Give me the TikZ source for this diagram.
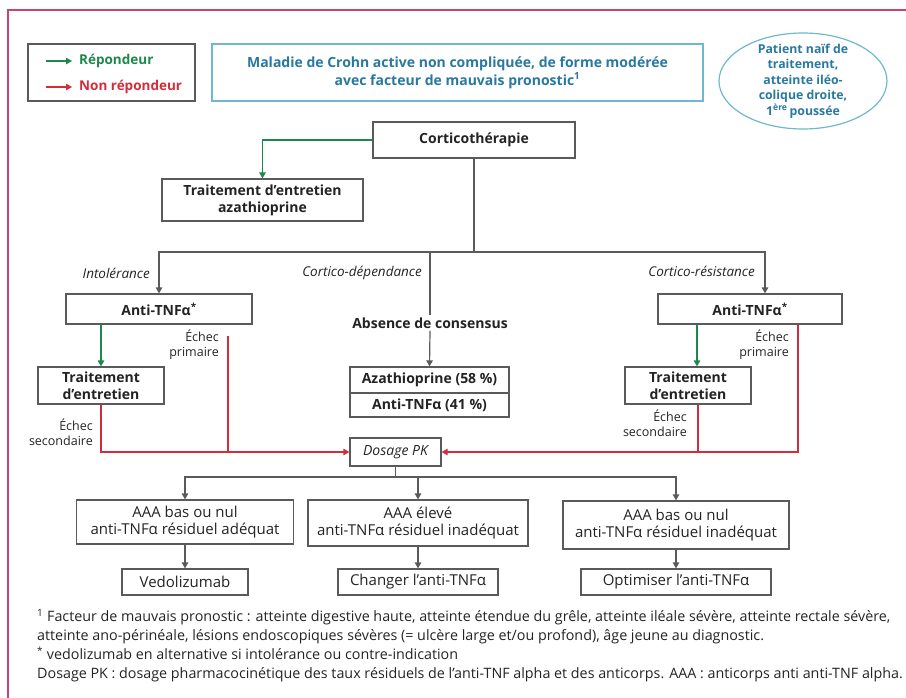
\documentclass[tikz,border=0pt]{standalone}
\usepackage{fontspec}
\setmainfont{Open Sans}
\usetikzlibrary{arrows.meta,shapes.geometric}

\definecolor{frameline}{RGB}{200,70,110}
\definecolor{respgreen}{RGB}{30,135,75}
\definecolor{nonred}{RGB}{210,45,60}
\definecolor{titleblue}{RGB}{40,120,160}
\definecolor{titleframe}{RGB}{110,185,205}
\definecolor{boxgray}{RGB}{90,90,90}
\definecolor{textgray}{RGB}{35,35,35}

\tikzset{
    frame line/.style={draw=frameline, line width=1.2},
    main node/.style={draw=boxgray, line width=1.2, inner sep=2, align=center, text=textgray,
        font=\fontsize{14}{17}\selectfont\bfseries},
    result node/.style={draw=boxgray, line width=1.2, inner sep=2, align=center, text=textgray,
        font=\fontsize{15}{17}\selectfont},
    title node/.style={draw=titleframe, line width=1.2, align=center, text=titleblue,
        minimum width=491, minimum height=57, font=\fontsize{14}{18}\selectfont\bfseries},
    ellipse node/.style={ellipse, draw=titleframe, line width=1.2, align=center, text=titleblue,
        inner xsep=0, inner ysep=-6, minimum width=168, minimum height=96,
        font=\fontsize{12.3}{15.5}\selectfont\bfseries},
    legend node/.style={draw=boxgray, line width=1.2},
    legend text/.style={anchor=west, inner sep=0, font=\fontsize{13.5}{16}\selectfont\bfseries},
    italic label/.style={anchor=east, inner sep=0, text=textgray, font=\fontsize{13.5}{16}\selectfont\itshape},
    fail label/.style={anchor=north east, inner sep=0, align=right, text=textgray,
        font=\fontsize{12.5}{14.5}\selectfont},
    flow line/.style={draw=boxgray, line width=1.2},
    flow arrow/.style={flow line, -{Triangle[length=6,width=6.5]}},
    resp arrow/.style={draw=respgreen, line width=1.2, -{Triangle[length=6,width=6.5]}},
    nonresp line/.style={draw=nonred, line width=1.2},
    nonresp arrow/.style={nonresp line, -{Triangle[length=6,width=6.5]}}
    }

\begin{document}
\begin{tikzpicture}[x=1pt,y=-1pt]
    \useasboundingbox (0,0) rectangle (906,698);
    \draw[frame line] (8,698) -- (8,10) -- (906,10);

    % legende, titre, patient
    \node(legend)[legend node, minimum width=167, minimum height=57] at (111.5,72.5) {};
    \coordinate(g0) at (46,61);
    \coordinate(r0) at (46,87);
    \node(rep)[legend text, text=respgreen] at (79,61) {Répondeur};
    \node(nonrep)[legend text, text=nonred] at (79,87) {Non répondeur};
    \draw[resp arrow] (g0) -- ([xshift=-7]rep.west);
    \draw[nonresp arrow] (r0) -- ([xshift=-7]nonrep.west);

    \node(title)[title node] at (457.5,72.5)
        {Maladie de Crohn active non compliquée, de forme modérée\\avec facteur de mauvais pronostic\textsuperscript{1}};
    \node(naif)[ellipse node] at (803,81)
        {Patient naïf de\\traitement,\\atteinte iléo-\\colique droite,\\1\textsuperscript{ère}\,poussée};

    % corticotherapie
    \node(cortico)[main node, minimum width=202, minimum height=36] at (474,140) {Corticothérapie};
    \node(azathio)[main node, minimum width=201, minimum height=42] at (262.5,200)
        {Traitement d’entretien\\azathioprine};
    \draw[resp arrow] (cortico.west) -| (azathio.north);

    \coordinate(bus) at (474,252);
    \draw[flow line] (cortico.south) -- (bus);

    % trois branches
    \node(antiL)[main node, minimum width=186, minimum height=30] at (159,309) {Anti-TNFα\textsuperscript{*}};
    \node(traitL)[main node, minimum width=126, minimum height=37] at (101,385.5) {Traitement\\d’entretien};
    \node(antiR)[main node, minimum width=184, minimum height=30] at (750,309) {Anti-TNFα\textsuperscript{*}};
    \node(traitR)[main node, minimum width=126, minimum height=37] at (688,385.5) {Traitement\\d’entretien};
    \node(absence)[main node, draw=none] at (430,323) {Absence de consensus};
    \node(aza)[main node, minimum width=159, minimum height=26] at (429.5,380) {Azathioprine (58~\%)};
    \node(antitnf)[main node, minimum width=159, minimum height=24] at (429.5,405) {Anti-TNFα (41~\%)};
    \node(dosage)[main node, font=\fontsize{14}{17}\selectfont\itshape, minimum width=91, minimum height=28]
        at (395.5,452) {Dosage PK};

    \node[italic label] at (150,273) {Intolérance};
    \node[italic label] at (422,273) {Cortico-dépendance};
    \node[italic label] at (755,271) {Cortico-résistance};

    \draw[flow arrow] (bus) -| (antiL.north);
    \draw[flow arrow] (bus) -| ([xshift=15]antiR.north);
    \draw[flow line] (absence.north) -- (absence.north |- bus);
    \draw[flow arrow] (absence.south) -- (aza.north);

    \draw[resp arrow] (antiL.south -| traitL.north) -- (traitL.north);
    \draw[resp arrow] ([xshift=9]antiR.south -| traitR.north) -- ([xshift=9]traitR.north);

    % echecs
    \node[fail label] at (219,330) {Échec\\primaire};
    \node[fail label] at (93,419) {Échec\\secondaire};
    \node[fail label] at (789,330) {Échec\\primaire};
    \node[fail label] at (687,410) {Échec\\secondaire};

    \coordinate(primL) at (228,336);
    \draw[nonresp arrow] (traitL.south) |- (dosage.west);
    \draw[nonresp line] (primL) -- (primL |- dosage.west);
    \draw[nonresp arrow] ([xshift=48]antiR.south) |- (dosage.east);
    \draw[nonresp line] ([xshift=10]traitR.south) -- ([xshift=10]traitR.south |- dosage.east);

    % resultats du dosage
    \node(res1)[result node, minimum width=217, minimum height=44] at (185,522) {AAA bas ou nul\\anti-TNFα résiduel adéquat};
    \node(res2)[result node, minimum width=220, minimum height=46] at (418,523) {AAA élevé\\anti-TNFα résiduel inadéquat};
    \node(res3)[result node, minimum width=226, minimum height=48] at (676,525) {AAA bas ou nul\\anti-TNFα résiduel inadéquat};
    \node(vedo)[result node, minimum width=126, minimum height=26] at (185,582) {Vedolizumab};
    \node(changer)[result node, minimum width=160, minimum height=26] at (418,582) {Changer l’anti-TNFα};
    \node(optim)[result node, minimum width=190, minimum height=26] at (676,582) {Optimiser l’anti-TNFα};

    \coordinate(bus2) at (395.5,477);
    \draw[flow line] (dosage.south) -- (bus2);
    \draw[flow arrow] (bus2) -| (res1.north);
    \draw[flow arrow] (bus2) -| (res2.north);
    \draw[flow arrow] (bus2) -| (res3.north);
    \draw[flow arrow] (res1.south) -- (vedo.north);
    \draw[flow arrow] (res2.south) -- (changer.north);
    \draw[flow arrow] (res3.south) -- (optim.north);

    % notes
    \node(notes)[anchor=north west, inner sep=0, align=left, text=textgray, font=\fontsize{14.3}{19}\selectfont] at (37,609)
        {\textsuperscript{1} Facteur de mauvais pronostic : atteinte digestive haute, atteinte étendue du grêle, atteinte iléale sévère, atteinte rectale sévère,\\
         atteinte ano-périnéale, lésions endoscopiques sévères (= ulcère large et/ou profond), âge jeune au diagnostic.\\
         \textsuperscript{*} vedolizumab en alternative si intolérance ou contre-indication\\
         Dosage PK : dosage pharmacocinétique des taux résiduels de l’anti-TNF alpha et des anticorps. AAA : anticorps anti anti-TNF alpha.};
\end{tikzpicture}
\end{document}
